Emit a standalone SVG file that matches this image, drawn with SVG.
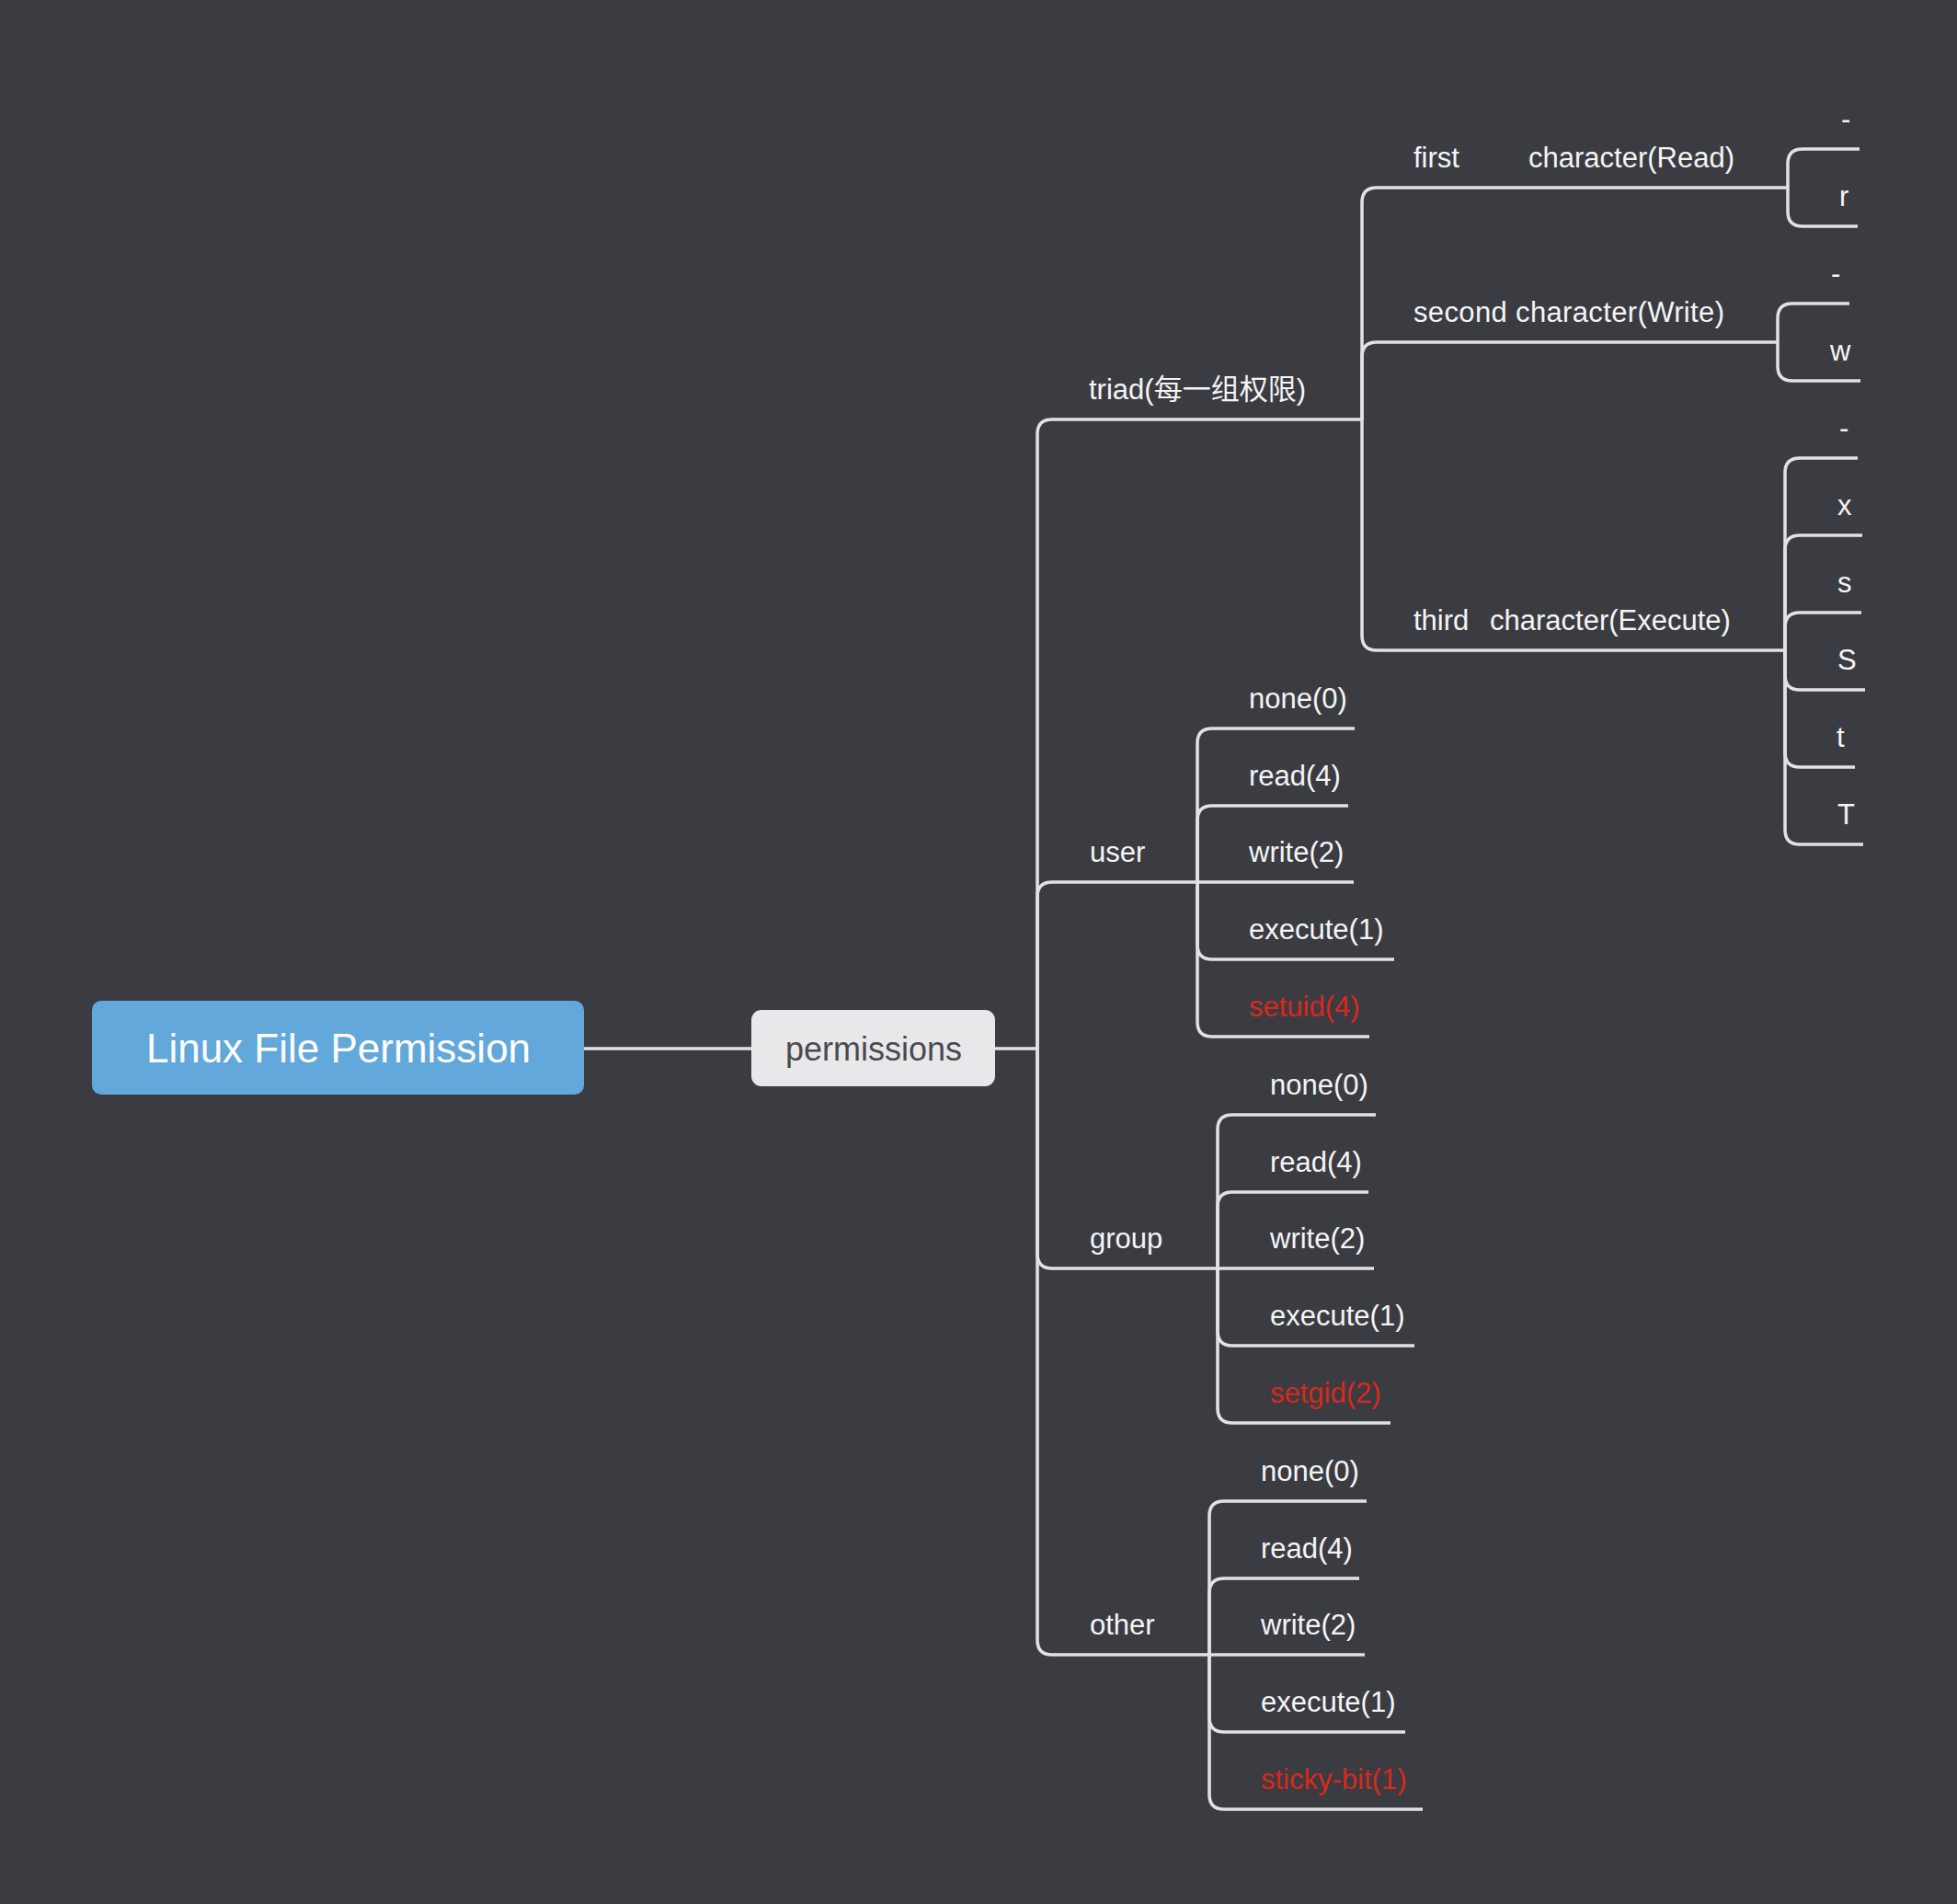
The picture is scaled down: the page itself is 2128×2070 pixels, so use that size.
<svg xmlns="http://www.w3.org/2000/svg" width="2128" height="2070" viewBox="0 0 2128 2070">
<style>
.bg{fill:#3b3c42}
.c{fill:none;stroke:#e2e2e2;stroke-width:3.5}
.t{font-family:"Liberation Sans","Noto Sans CJK SC",sans-serif;font-size:31px;fill:#f4f4f4}
.red{fill:#d8281c}
.root{fill:#63a8da}
.sub{fill:#e8e8ea}
</style>
<rect class="bg" x="0" y="0" width="2128" height="2070"/>
<g id="connectors">
<path class="c" d="M635 1140 H817"/>
<path class="c" d="M1082 1140 H1128"/>
<path class="c" d="M1128 1140 V472 Q1128 456 1144 456 H1481"/>
<path class="c" d="M1128 1140 V975 Q1128 959 1144 959 H1302"/>
<path class="c" d="M1128 1140 V1363 Q1128 1379 1144 1379 H1324"/>
<path class="c" d="M1128 1140 V1783 Q1128 1799 1144 1799 H1315"/>
<path class="c" d="M1481 456 V220 Q1481 204 1497 204 H1944"/>
<path class="c" d="M1481 456 V388 Q1481 372 1497 372 H1933"/>
<path class="c" d="M1481 456 V691 Q1481 707 1497 707 H1941"/>
<path class="c" d="M1944 204 V178 Q1944 162 1960 162 H2022"/>
<path class="c" d="M1944 204 V230 Q1944 246 1960 246 H2020"/>
<path class="c" d="M1933 372 V346 Q1933 330 1949 330 H2011"/>
<path class="c" d="M1933 372 V398 Q1933 414 1949 414 H2023"/>
<path class="c" d="M1941 707 V514 Q1941 498 1957 498 H2020"/>
<path class="c" d="M1941 707 V598 Q1941 582 1957 582 H2025"/>
<path class="c" d="M1941 707 V682 Q1941 666 1957 666 H2024"/>
<path class="c" d="M1941 707 V734 Q1941 750 1957 750 H2028"/>
<path class="c" d="M1941 707 V818 Q1941 834 1957 834 H2017"/>
<path class="c" d="M1941 707 V902 Q1941 918 1957 918 H2026"/>
<path class="c" d="M1302 959 V808 Q1302 792 1318 792 H1473"/>
<path class="c" d="M1302 959 V892 Q1302 876 1318 876 H1466"/>
<path class="c" d="M1302 959 H1472"/>
<path class="c" d="M1302 959 V1027 Q1302 1043 1318 1043 H1516"/>
<path class="c" d="M1302 959 V1111 Q1302 1127 1318 1127 H1489"/>
<path class="c" d="M1324 1379 V1228 Q1324 1212 1340 1212 H1496"/>
<path class="c" d="M1324 1379 V1312 Q1324 1296 1340 1296 H1488"/>
<path class="c" d="M1324 1379 H1494"/>
<path class="c" d="M1324 1379 V1447 Q1324 1463 1340 1463 H1538"/>
<path class="c" d="M1324 1379 V1531 Q1324 1547 1340 1547 H1512"/>
<path class="c" d="M1315 1799 V1648 Q1315 1632 1331 1632 H1486"/>
<path class="c" d="M1315 1799 V1732 Q1315 1716 1331 1716 H1478"/>
<path class="c" d="M1315 1799 H1484"/>
<path class="c" d="M1315 1799 V1867 Q1315 1883 1331 1883 H1528"/>
<path class="c" d="M1315 1799 V1951 Q1315 1967 1331 1967 H1547"/>
</g>
<g id="root"><rect class="root" x="100" y="1088" width="535" height="102" rx="10"/><text x="368" y="1155" text-anchor="middle" style="font-family:'Liberation Sans',sans-serif;font-size:44px;fill:#ffffff">Linux File Permission</text></g>
<g id="permissions"><rect class="sub" x="817" y="1098" width="265" height="83" rx="11"/><text x="950" y="1153" text-anchor="middle" style="font-family:'Liberation Sans',sans-serif;font-size:36px;fill:#4a4a4e">permissions</text></g>
<g id="triad"><text class="t" x="1184" y="434">triad(每一组权限)</text></g>
<g id="first"><text class="t" y="182"><tspan x="1537">first</tspan><tspan x="1662">character(Read)</tspan></text></g>
<g id="first-dash"><text class="t" x="2002" y="140">-</text></g>
<g id="first-r"><text class="t" x="2000" y="224">r</text></g>
<g id="second"><text class="t" x="1537" y="350" textLength="338">second character(Write)</text></g>
<g id="second-dash"><text class="t" x="1991" y="308">-</text></g>
<g id="second-w"><text class="t" x="1990" y="392">w</text></g>
<g id="third"><text class="t" y="685"><tspan x="1537">third</tspan><tspan x="1620">character(Execute)</tspan></text></g>
<g id="third-dash"><text class="t" x="2000" y="476">-</text></g>
<g id="third-x"><text class="t" x="1998" y="560">x</text></g>
<g id="third-s"><text class="t" x="1998" y="644">s</text></g>
<g id="third-S"><text class="t" x="1998" y="728">S</text></g>
<g id="third-t"><text class="t" x="1997" y="812">t</text></g>
<g id="third-T"><text class="t" x="1998" y="896">T</text></g>
<g id="user"><text class="t" x="1185" y="937">user</text></g>
<g id="user-none"><text class="t" x="1358" y="770">none(0)</text></g>
<g id="user-read"><text class="t" x="1358" y="854">read(4)</text></g>
<g id="user-write"><text class="t" x="1358" y="937">write(2)</text></g>
<g id="user-execute"><text class="t" x="1358" y="1021">execute(1)</text></g>
<g id="user-setuid"><text class="t red" x="1358" y="1105">setuid(4)</text></g>
<g id="group"><text class="t" x="1185" y="1357">group</text></g>
<g id="group-none"><text class="t" x="1381" y="1190">none(0)</text></g>
<g id="group-read"><text class="t" x="1381" y="1274">read(4)</text></g>
<g id="group-write"><text class="t" x="1381" y="1357">write(2)</text></g>
<g id="group-execute"><text class="t" x="1381" y="1441">execute(1)</text></g>
<g id="group-setgid"><text class="t red" x="1381" y="1525">setgid(2)</text></g>
<g id="other"><text class="t" x="1185" y="1777">other</text></g>
<g id="other-none"><text class="t" x="1371" y="1610">none(0)</text></g>
<g id="other-read"><text class="t" x="1371" y="1694">read(4)</text></g>
<g id="other-write"><text class="t" x="1371" y="1777">write(2)</text></g>
<g id="other-execute"><text class="t" x="1371" y="1861">execute(1)</text></g>
<g id="other-sticky"><text class="t red" x="1371" y="1945">sticky-bit(1)</text></g>
</svg>
